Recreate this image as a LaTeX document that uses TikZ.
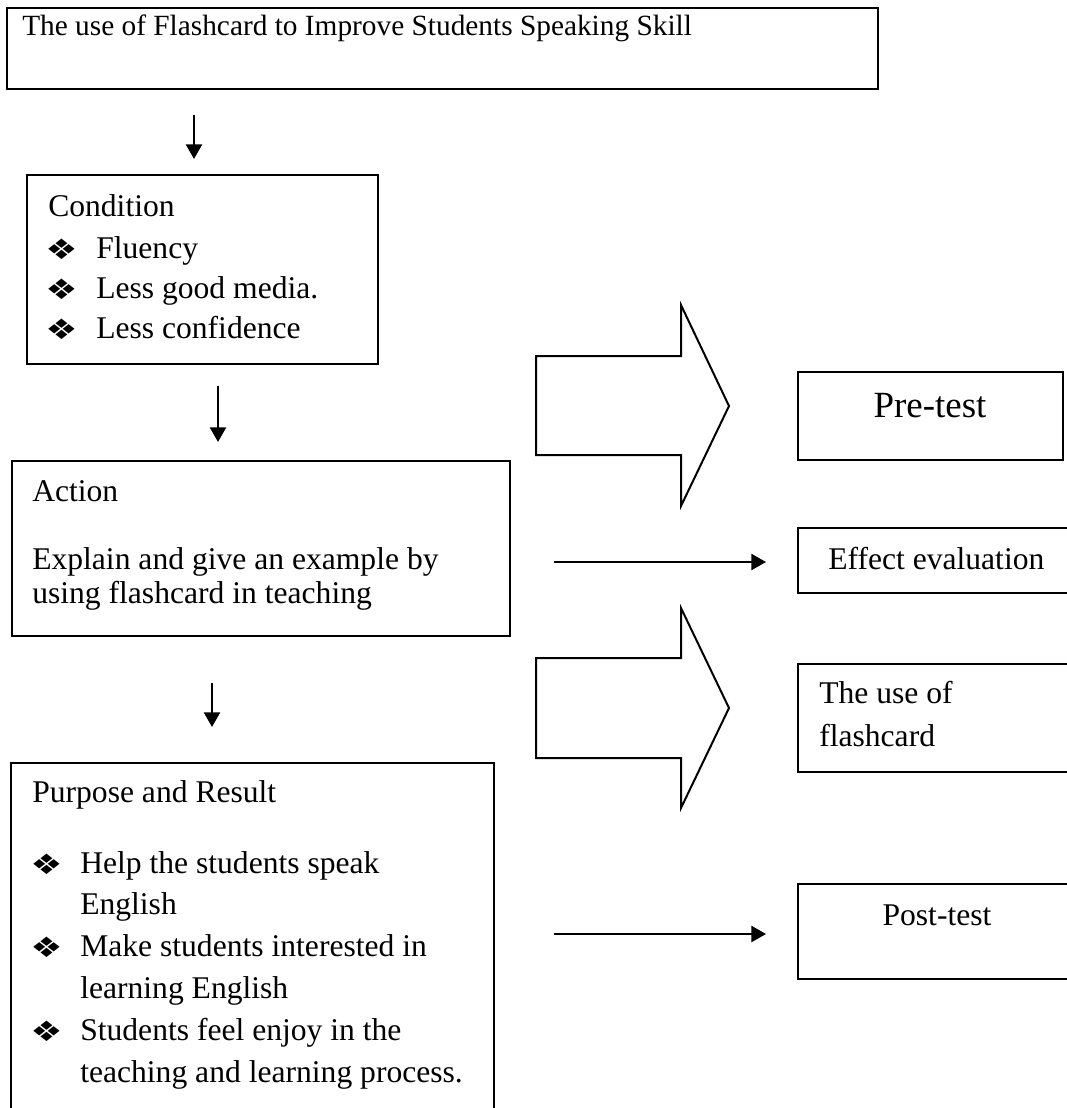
\documentclass[tikz,border=0pt]{standalone}
\usepackage{fontspec}
\usepackage{graphicx}
\setmainfont{Liberation Serif}
\newfontfamily\symfont{DejaVu Sans}
\newcommand{\mybul}{\scalebox{1}[0.78]{❖}}
\usetikzlibrary{arrows.meta,fit}
\begin{document}
\begin{tikzpicture}[x=0.75pt,y=-0.75pt,
  box/.style={draw,line width=1.5pt,inner sep=0pt},
  txt/.style={anchor=base west,inner sep=0pt,font=\fontsize{23.7}{28}\selectfont},
  ctxt/.style={anchor=base,inner sep=0pt,font=\fontsize{23.7}{28}\selectfont},
  bul/.style={anchor=center,inner sep=0pt,font=\symfont\fontsize{27}{30}\selectfont},
  arr/.style={line width=1.8pt,-{Triangle[length=11pt,width=12pt]}},
  fat/.style={draw,line width=1.5pt,line join=miter}]
\useasboundingbox (0,0) rectangle (1067,1108);
\clip (0,0) rectangle (1067,1108);

% boxes
\node[box,line width=2pt,fit={(7,8) (878,89)}] (title) {};
\node[box,fit={(27,175) (378,364)}] (condbox) {};
\node[box,fit={(12,461) (510,636)}] (actbox) {};
\node[box,fit={(11,763) (494,1125)}] (purbox) {};
\node[box,fit={(798,372) (1063,460)}] (prebox) {};
\node[box,fit={(798,528) (1085,593)}] (effbox) {};
\node[box,fit={(798,664) (1085,772)}] (usebox) {};
\node[box,fit={(798,884) (1085,979)}] (postbox) {};

% title
\node[txt,font=\fontsize{22}{26}\selectfont] (ttl) at (22,35) {The use of Flashcard to Improve Students Speaking Skill};

% condition
\node[txt] (cond) at (48,216) {Condition};
\node[bul] (cb1) at (61.5,249) {\mybul};
\node[txt] (c1) at (96,258) {Fluency};
\node[bul] (cb2) at (61.5,289) {\mybul};
\node[txt] (c2) at (96,298) {Less good media.};
\node[bul] (cb3) at (61.5,329) {\mybul};
\node[txt] (c3) at (96,338) {Less confidence};

% action
\node[txt] (act) at (32,501) {Action};
\node[txt] (a1) at (32,569) {Explain and give an example by};
\node[txt] (a2) at (32,603) {using flashcard in teaching};

% purpose
\node[txt] (pur) at (32,802) {Purpose and Result};
\node[bul] (pb1) at (46.5,864) {\mybul};
\node[txt] (p1) at (80,873) {Help the students speak};
\node[txt] (p2) at (80,914) {English};
\node[bul] (pb2) at (46.5,947) {\mybul};
\node[txt] (p3) at (80,956) {Make students interested in};
\node[txt] (p4) at (80,998) {learning English};
\node[bul] (pb3) at (46.5,1031) {\mybul};
\node[txt] (p5) at (80,1040) {Students feel enjoy in the};
\node[txt] (p6) at (80,1082) {teaching and learning process.};

% right side texts
\node[anchor=base,inner sep=0pt,font=\fontsize{27.7}{32}\selectfont] (pre) at (930,417) {Pre-test};
\node[txt] (eff) at (828,569) {Effect evaluation};
\node[txt] (use1) at (819,703) {The use of};
\node[txt] (use2) at (819,746) {flashcard};
\node[ctxt] (post) at (937,925) {Post-test};

% thin arrows
\coordinate (v1s) at (194,115); \coordinate (v1e) at (194,159);
\coordinate (v2s) at (218,386); \coordinate (v2e) at (218,442);
\coordinate (v3s) at (212,683); \coordinate (v3e) at (212,727);
\coordinate (h1s) at (554,562); \coordinate (h1e) at (766,562);
\coordinate (h2s) at (554,934); \coordinate (h2e) at (766,934);
\draw[arr] (v1s) -- (v1e);
\draw[arr] (v2s) -- (v2e);
\draw[arr] (v3s) -- (v3e);
\draw[arr] (h1s) -- (h1e);
\draw[arr] (h2s) -- (h2e);

% block arrows
\draw[fat] (536,356) -- (681,356) -- (681,305) -- (729,406) -- (681,506) -- (681,455) -- (536,455) -- cycle;
\draw[fat] (536,658) -- (681,658) -- (681,608) -- (729,708) -- (681,808) -- (681,758) -- (536,758) -- cycle;
\end{tikzpicture}
\end{document}
